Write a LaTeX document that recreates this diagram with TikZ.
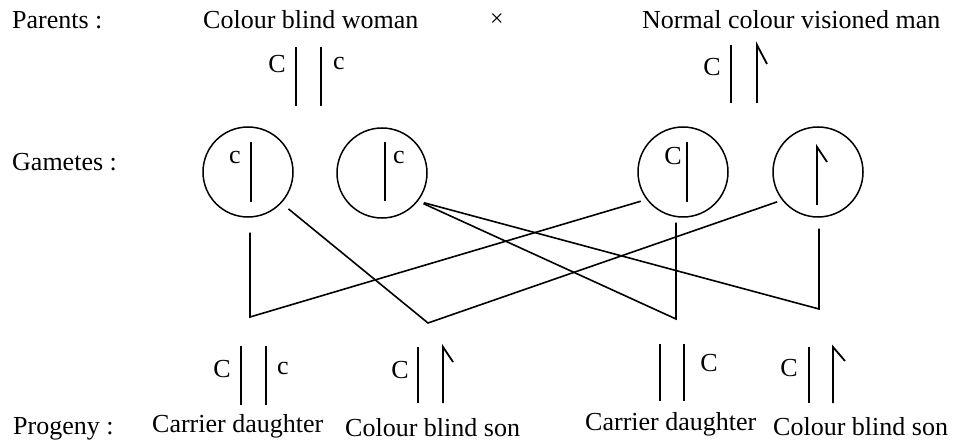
\documentclass[tikz,border=0pt]{standalone}
\usepackage{fontspec}
\setmainfont{Liberation Serif}
\usetikzlibrary{positioning}

\begin{document}
\begin{tikzpicture}[
  x=1pt,y=-1pt,
  every node/.style={font=\fontsize{26}{30}\selectfont,inner sep=0pt},
  gamete/.style={draw,circle,line width=1.5pt,minimum size=90pt},
  chromo/.style={line width=1.8pt},
  link/.style={line width=1.6pt,line join=miter},
]
  \useasboundingbox (0,0) rectangle (955,446);

  % Row labels
  \node[anchor=base west] (parents) at (12,29) {Parents :};
  \node[anchor=base west] (gametes) at (12,171) {Gametes :};
  \node[anchor=base west] (progeny) at (13,434) {Progeny :};

  % Parents
  \node[anchor=base west] (woman) at (203,29) {Colour blind woman};
  \node[font=\fontsize{24}{26}\selectfont] (cross) at (497,20) {×};
  \node[anchor=base west] (man) at (642,29) {Normal colour visioned man};

  % woman: C | | c
  \draw[chromo] (296,47) -- (296,106);
  \draw[chromo] (321,47) -- (321,106);
  \node (wC) at (277,64) {C};
  \node (wc) at (339,64) {c};

  % man: C | | hooked Y
  \draw[chromo] (731,45) -- (731,103);
  \draw[chromo] (757,103) -- (757,45) -- (767,64);
  \node (mC) at (712,67) {C};

  % Gametes
  \node[gamete] (g1) at (248,172) {};
  \node[gamete] (g2) at (382,173) {};
  \node[gamete] (g3) at (683,172) {};
  \node[gamete] (g4) at (818,172) {};

  \draw[chromo] (251,142) -- (251,202);
  \node (g1c) at (235,158) {c};
  \draw[chromo] (385,142) -- (385,201);
  \node (g2c) at (399,158) {c};
  \draw[chromo] (687,142) -- (687,202);
  \node (g3C) at (673,156) {C};
  \draw[chromo] (817,205) -- (817,147) -- (827,162);

  % Crossing lines
  \coordinate (k1) at (250,317);
  \coordinate (k2) at (428,323);
  \coordinate (k3) at (676,319);
  \coordinate (k4) at (819,309);

  \draw[link,shorten <=15pt,shorten >=6pt] (g1.south -| k1) -- (k1) -- (g3.217);
  \draw[link,shorten <=9pt,shorten >=5pt] (g1.317) -- (k2) -- (g4.218);
  \draw[link,shorten <=6pt,shorten >=5pt] (g2.322) -- (k3) -- (g3.south -| k3);
  \draw[link,shorten <=6pt,shorten >=11pt] (g2.322) -- (k4) -- (g4.south -| k4);

  % Progeny
  \draw[chromo] (241,346) -- (241,405);
  \draw[chromo] (266,346) -- (266,405);
  \node (p1C) at (222,369) {C};
  \node (p1c) at (283,369) {c};

  \draw[chromo] (418,347) -- (418,403);
  \draw[chromo] (443,403) -- (443,347) -- (453,362);
  \node (p2C) at (400,370) {C};

  \draw[chromo] (660,344) -- (660,401);
  \draw[chromo] (684,344) -- (684,401);
  \node (p3C) at (709,363) {C};

  \draw[chromo] (809,347) -- (809,403);
  \draw[chromo] (833,403) -- (833,347) -- (845,361);
  \node (p4C) at (789,368) {C};

  \node[anchor=base west] (d1) at (152,432) {Carrier daughter};
  \node[anchor=base west] (s1) at (345,436) {Colour blind son};
  \node[anchor=base west] (d2) at (585,430) {Carrier daughter};
  \node[anchor=base west] (s2) at (773,435) {Colour blind son};
\end{tikzpicture}
\end{document}
